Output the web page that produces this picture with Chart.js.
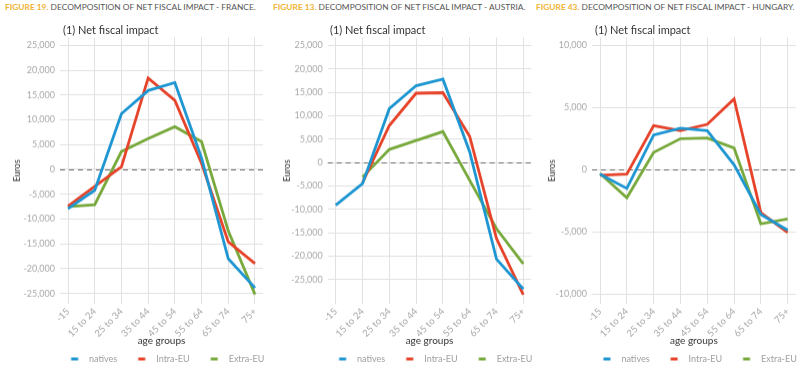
<!DOCTYPE html>
<html><head><meta charset="utf-8">
<script src="https://cdn.jsdelivr.net/npm/chart.js@4"></script>
<style>
body{margin:0;width:800px;height:367px;background:#fff;overflow:hidden;font-family:Lato,"Open Sans",sans-serif;position:relative}
.hdr{position:absolute;top:2px;font-size:8.4px;color:#555;white-space:nowrap;z-index:2}
.hdr b{color:#f2b233;font-weight:bold}
.sub{position:absolute;top:23px;font-size:11px;color:#333;white-space:nowrap;z-index:2}
.panel{position:absolute;top:27px;height:345.5px}
</style></head>
<body>
<div class="hdr" style="left:5px"><b>FIGURE 19.</b> DECOMPOSITION OF NET FISCAL IMPACT - FRANCE.</div>
<div class="hdr" style="left:273px"><b>FIGURE 13.</b> DECOMPOSITION OF NET FISCAL IMPACT - AUSTRIA.</div>
<div class="hdr" style="left:536px"><b>FIGURE 43.</b> DECOMPOSITION OF NET FISCAL IMPACT - HUNGARY.</div>
<div class="sub" style="left:63px">(1) Net fiscal impact</div>
<div class="sub" style="left:330px">(1) Net fiscal impact</div>
<div class="sub" style="left:595px">(1) Net fiscal impact</div>
<div class="panel" style="left:0;width:270px"><canvas id="c1"></canvas></div>
<div class="panel" style="left:270px;width:265px"><canvas id="c2"></canvas></div>
<div class="panel" style="left:535px;width:265px"><canvas id="c3"></canvas></div>
<script>
const ageGroups = ['-15','15 to 24','25 to 34','35 to 44','45 to 54','55 to 64','65 to 74','75+'];
const seriesNames = ['natives','Intra-EU','Extra-EU'];
const seriesColors = ['#1e96d2','#e6432a','#78a93c'];

const franceNatives = [-7900,-4200,11200,15900,17500,2300,-18000,-23900];
const franceIntra   = [-7400,-3400,500,18400,13900,1200,-14600,-19000];
const franceExtra   = [-7500,-7100,3600,6200,8600,5600,-12400,-25200];

const austriaNatives = [-9100,-4500,11500,16400,17800,2300,-20600,-27000];
const austriaIntra   = [null,-4300,7900,14800,14900,5600,-16200,-28200];
const austriaExtra   = [null,-3100,2800,4700,6600,-3800,-14100,-21600];

const hungaryNatives = [-350,-1500,2800,3350,3150,400,-3600,-4850];
const hungaryIntra   = [-450,-350,3550,3150,3650,5700,-3450,-5050];
const hungaryExtra   = [-300,-2250,1400,2500,2550,1750,-4350,-3950];

const franceTicks  = [25000,20000,15000,10000,5000,0,-5000,-10000,-15000,-20000,-25000];
const austriaTicks = [25000,20000,15000,10000,5000,0,-5000,-10000,-15000,-20000,-25000];
const hungaryTicks = [10000,5000,0,-5000,-10000];

// legend swatch: short thick line inside a wider transparent box (gives the text gap)
function swatch(color){
  const c = document.createElement('canvas');
  c.width = 20; c.height = 4;
  const x = c.getContext('2d');
  x.fillStyle = color; x.fillRect(6.5, 0.5, 7, 3);
  return c;
}

const zeroLine = {
  id:'zeroLine',
  beforeDatasetsDraw(chart){
    const y = Math.round(chart.scales.y.getPixelForValue(0)) + 0.5;
    const a = chart.chartArea, ctx = chart.ctx;
    ctx.save();
    ctx.strokeStyle = '#6a6a6a'; ctx.lineWidth = 1; ctx.setLineDash([5,4]);
    ctx.beginPath(); ctx.moveTo(a.left, y); ctx.lineTo(a.right, y); ctx.stroke();
    ctx.restore();
  }
};
const centerLegend = {
  id:'centerLegend',
  afterLayout(chart){
    const l = chart.legend, a = chart.chartArea;
    const off = (a.left + a.right) / 2 - (l.left + l.right) / 2 + 3;
    l.left += off; l.right += off;
  }
};

function makeChart(id, series, yMin, yMax, yTicks, axisWidth, rightPad){
  const datasets = series.map((vals, k) => ({
    label: seriesNames[k],
    data: vals.map((v,i) => ({x:i, y:v})),
    borderColor: seriesColors[k],
    backgroundColor: seriesColors[k],
    borderWidth: 2.8,
    pointRadius: 0,
    pointStyle: swatch(seriesColors[k]),
    tension: 0,
    clip: false
  }));
  const font = 'Lato, "Open Sans", sans-serif';
  return new Chart(document.getElementById(id), {
    type: 'line',
    data: { datasets },
    plugins: [zeroLine, centerLegend],
    options: {
      responsive: true, maintainAspectRatio: false, animation: false,
      layout: { padding: { left: 0, right: rightPad, top: 0, bottom: 0 } },
      plugins: {
        legend: {
          position: 'bottom',
          labels: { usePointStyle: true, pointStyleWidth: 20,
                    color: '#a0a0a0', font: { family: font, size: 9 }, padding: 14.5, boxHeight: 9 }
        },
        tooltip: { enabled: false }
      },
      scales: {
        x: {
          type: 'linear', min: -0.3, max: 7.3,
          afterBuildTicks: (ax) => { ax.ticks = ageGroups.map((_, i) => ({ value: i })); },
          afterFit: (s) => { s.height = 36; },
          ticks: { callback: (v) => ageGroups[v], minRotation: 45, maxRotation: 45, autoSkip: false,
                   color: '#a8a8a8', font: { family: font, size: 9.5 }, padding: 2 },
          grid: { color: '#e1e1e1', drawTicks: false },
          border: { display: false },
          title: { display: true, text: 'age groups', color: '#333', font: { family: font, size: 10 }, padding: { top: 0, bottom: -7 } }
        },
        y: {
          min: yMin, max: yMax,
          afterBuildTicks: (ax) => { ax.ticks = yTicks.map(v => ({ value: v })); },
          afterFit: (s) => { s.width = axisWidth; },
          ticks: { callback: (v) => Number(v).toLocaleString('en-US'), color: '#a8a8a8',
                   font: { family: font, size: 9 }, padding: 5 },
          grid: { color: '#e1e1e1', drawTicks: false },
          border: { display: false },
          title: { display: true, text: 'Euros', color: '#333', font: { family: font, size: 9 }, padding: { top: 12, bottom: 0 } }
        }
      }
    }
  });
}

makeChart('c1', [franceNatives, franceIntra, franceExtra], -27100, 26600, franceTicks, 60, 7);
makeChart('c2', [austriaNatives, austriaIntra, austriaExtra], -30150, 26700, austriaTicks, 57.7, 3.7);
makeChart('c3', [hungaryNatives, hungaryIntra, hungaryExtra], -10780, 10640, hungaryTicks, 57, 4.3);
</script>
</body></html>
